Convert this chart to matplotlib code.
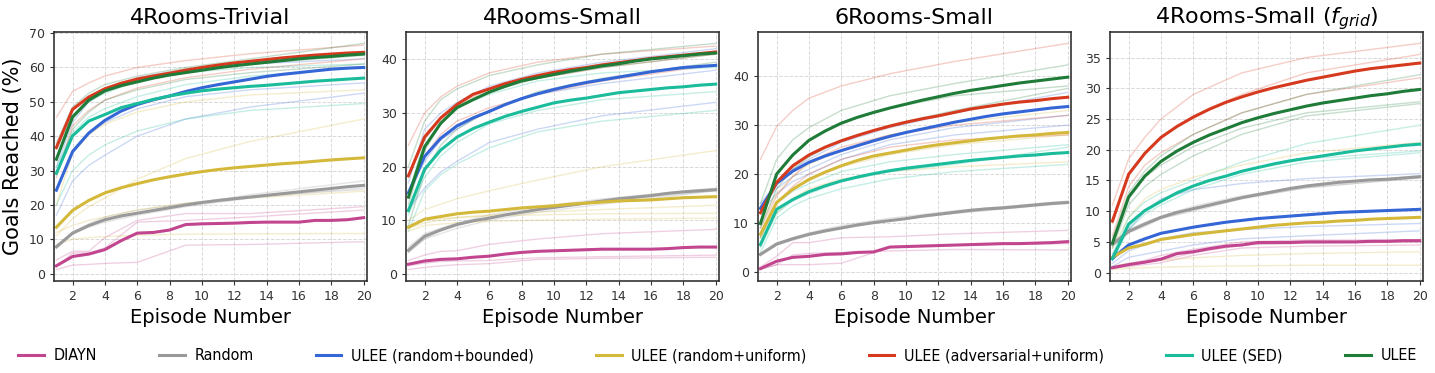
import numpy as np
import matplotlib
matplotlib.use("Agg")
import matplotlib.pyplot as plt

# episodes for the mean curves and for the (coarser) per-seed curves
episodes = np.arange(1, 21)
seed_episodes = [1, 2, 3, 4, 6, 9, 13, 20]

methods = ["DIAYN", "Random", "ULEE (random+bounded)", "ULEE (random+uniform)",
           "ULEE (adversarial+uniform)", "ULEE (SED)", "ULEE"]
colors = ["#c2468f", "#9a9a9a", "#3566d6", "#d4b83a", "#d63a1e", "#1bbc9b", "#1e7b38"]

titles = ["4Rooms-Trivial", "4Rooms-Small", "6Rooms-Small", r"4Rooms-Small ($f_{grid}$)"]

# ---- mean curves, one list per method, order as in `methods`
trivial_mean = [
    [2.3, 5.0, 5.7, 7.0, 9.6, 11.8, 12.0, 12.7, 14.3, 14.5, 14.6, 14.7, 14.9, 15.0, 15.0, 15.0, 15.5, 15.5, 15.7, 16.3],
    [7.8, 11.8, 14.0, 15.7, 16.8, 17.6, 18.4, 19.2, 20.0, 20.7, 21.3, 21.8, 22.3, 22.8, 23.3, 23.8, 24.3, 24.8, 25.3, 25.7],
    [24.3, 35.5, 40.9, 44.6, 47.3, 49.2, 50.6, 51.7, 53.0, 54.1, 55.0, 55.8, 56.6, 57.4, 58.0, 58.5, 59.0, 59.5, 59.8, 60.0],
    [13.5, 18.4, 21.3, 23.5, 25.0, 26.2, 27.3, 28.2, 29.0, 29.7, 30.3, 30.8, 31.2, 31.6, 32.0, 32.3, 32.7, 33.1, 33.4, 33.7],
    [36.7, 47.8, 51.4, 53.8, 55.4, 56.6, 57.5, 58.3, 59.2, 60.0, 60.7, 61.3, 61.8, 62.3, 62.8, 63.2, 63.6, 63.9, 64.2, 64.4],
    [29.2, 40.1, 44.4, 46.3, 48.3, 49.5, 50.7, 51.7, 52.5, 53.2, 53.7, 54.1, 54.5, 54.8, 55.2, 55.6, 56.0, 56.3, 56.6, 56.9],
    [33.3, 45.6, 50.5, 53.2, 54.7, 55.8, 56.9, 57.8, 58.5, 59.2, 59.9, 60.5, 61.0, 61.5, 62.0, 62.5, 62.9, 63.2, 63.6, 63.9],
]
small_mean = [
    [1.8, 2.4, 2.7, 2.8, 3.1, 3.3, 3.7, 4.0, 4.2, 4.3, 4.4, 4.5, 4.6, 4.6, 4.6, 4.6, 4.7, 4.9, 5.0, 5.0],
    [4.4, 7.0, 8.2, 9.2, 9.9, 10.4, 11.0, 11.5, 12.0, 12.4, 12.8, 13.2, 13.6, 14.0, 14.3, 14.6, 15.0, 15.3, 15.5, 15.7],
    [15.1, 21.9, 25.3, 27.6, 29.1, 30.3, 31.6, 32.7, 33.6, 34.4, 35.1, 35.7, 36.2, 36.7, 37.2, 37.7, 38.1, 38.5, 38.7, 38.9],
    [8.7, 10.2, 10.7, 11.2, 11.5, 11.7, 12.0, 12.3, 12.5, 12.7, 13.0, 13.2, 13.4, 13.6, 13.7, 13.8, 14.0, 14.2, 14.3, 14.4],
    [18.3, 25.5, 29.1, 31.6, 33.5, 34.5, 35.5, 36.3, 37.0, 37.6, 38.1, 38.5, 39.0, 39.4, 39.8, 40.2, 40.5, 40.8, 41.1, 41.4],
    [11.8, 19.5, 23.1, 25.5, 27.1, 28.3, 29.4, 30.3, 31.1, 31.9, 32.4, 32.8, 33.3, 33.8, 34.1, 34.4, 34.7, 34.9, 35.2, 35.4],
    [14.3, 23.7, 28.1, 31.0, 32.5, 33.9, 35.0, 36.0, 36.6, 37.2, 37.8, 38.3, 38.8, 39.2, 39.7, 40.1, 40.4, 40.7, 41.0, 41.2],
]
six_mean = [
    [0.7, 2.2, 3.0, 3.2, 3.6, 3.7, 4.0, 4.1, 5.1, 5.2, 5.3, 5.4, 5.5, 5.6, 5.7, 5.8, 5.8, 5.9, 6.0, 6.2],
    [3.6, 5.7, 6.8, 7.7, 8.4, 9.0, 9.6, 10.1, 10.5, 10.9, 11.4, 11.8, 12.2, 12.6, 12.9, 13.1, 13.4, 13.7, 14.0, 14.2],
    [13.0, 18.1, 20.6, 22.4, 23.7, 24.8, 25.8, 26.8, 27.7, 28.5, 29.2, 29.9, 30.6, 31.2, 31.8, 32.3, 32.7, 33.1, 33.5, 33.8],
    [7.7, 14.2, 16.9, 18.9, 20.4, 21.7, 22.8, 23.7, 24.3, 24.9, 25.5, 26.0, 26.4, 26.8, 27.2, 27.5, 27.8, 28.0, 28.3, 28.5],
    [12.1, 18.3, 21.7, 23.9, 25.5, 26.8, 27.9, 28.9, 29.8, 30.6, 31.3, 31.9, 32.6, 33.3, 33.8, 34.3, 34.7, 35.0, 35.4, 35.7],
    [5.6, 12.8, 14.8, 16.4, 17.6, 18.6, 19.4, 20.1, 20.7, 21.2, 21.6, 22.0, 22.4, 22.8, 23.1, 23.4, 23.7, 23.9, 24.2, 24.4],
    [9.9, 20.0, 23.9, 26.9, 28.8, 30.4, 31.6, 32.6, 33.5, 34.3, 35.1, 35.8, 36.5, 37.1, 37.6, 38.1, 38.6, 39.0, 39.4, 39.8],
]
grid_mean = [
    [0.8, 1.3, 1.7, 2.2, 3.1, 3.4, 3.9, 4.3, 4.5, 4.9, 4.9, 4.9, 5.0, 5.0, 5.0, 5.0, 5.1, 5.1, 5.2, 5.2],
    [4.6, 6.7, 7.9, 9.0, 9.8, 10.4, 11.0, 11.6, 12.2, 12.7, 13.2, 13.7, 14.1, 14.4, 14.7, 14.9, 15.1, 15.2, 15.4, 15.6],
    [2.3, 4.5, 5.5, 6.4, 6.9, 7.4, 7.8, 8.2, 8.5, 8.8, 9.0, 9.2, 9.4, 9.6, 9.8, 9.9, 10.0, 10.1, 10.2, 10.3],
    [2.5, 4.0, 4.6, 5.4, 5.8, 6.2, 6.5, 6.8, 7.1, 7.4, 7.7, 7.9, 8.1, 8.2, 8.4, 8.5, 8.7, 8.8, 8.9, 9.0],
    [8.4, 16.0, 19.4, 22.0, 23.8, 25.3, 26.6, 27.7, 28.6, 29.4, 30.1, 30.7, 31.3, 31.8, 32.3, 32.8, 33.2, 33.5, 33.8, 34.1],
    [2.3, 7.9, 10.1, 11.6, 13.0, 14.1, 15.0, 15.7, 16.5, 17.1, 17.7, 18.2, 18.6, 19.0, 19.4, 19.8, 20.1, 20.4, 20.7, 20.9],
    [4.8, 12.3, 15.7, 18.1, 19.8, 21.2, 22.4, 23.4, 24.4, 25.2, 25.9, 26.5, 27.1, 27.6, 28.0, 28.4, 28.8, 29.1, 29.5, 29.8],
]

# ---- individual seeds (faint), values at seed_episodes
trivial_seeds = [
    [[4.0, 6.5, 6.5, 10.5, 15.5, 17.5, 17.5, 19.5], [2.0, 6.0, 6.0, 7.5, 15.0, 15.5, 16.5, 18.5],
     [1.2, 2.5, 2.7, 3.0, 3.3, 8.3, 8.5, 9.3]],
    [[7.5, 11.5, 13.5, 15.0, 17.0, 19.5, 22.0, 25.0], [8.0, 12.0, 14.5, 16.5, 18.5, 20.5, 22.5, 24.5],
     [8.0, 12.0, 14.0, 15.5, 17.5, 20.0, 23.0, 27.0]],
    [[31.0, 44.0, 50.0, 53.5, 57.0, 59.5, 61.0, 62.5], [24.0, 36.0, 41.0, 44.0, 48.0, 51.5, 53.5, 55.5],
     [17.0, 27.0, 31.5, 34.5, 40.0, 45.0, 48.5, 52.5]],
    [[20.0, 35.0, 40.5, 43.5, 47.0, 50.0, 52.0, 53.5], [11.0, 16.0, 19.5, 22.0, 27.5, 33.5, 38.5, 45.0],
     [12.0, 14.0, 15.5, 16.5, 18.5, 20.5, 22.0, 24.0], [8.5, 10.0, 10.5, 10.8, 11.2, 11.5, 11.6, 11.7]],
    [[45.5, 53.0, 55.5, 57.5, 60.0, 62.0, 64.0, 66.5], [37.0, 47.5, 51.5, 54.0, 57.0, 59.5, 61.5, 64.5],
     [28.0, 43.0, 47.5, 50.5, 54.0, 57.0, 59.5, 62.5]],
    [[36.0, 46.0, 50.0, 52.5, 56.0, 58.5, 60.0, 61.0], [31.0, 41.0, 45.5, 48.0, 51.5, 55.0, 57.5, 60.0],
     [20.0, 30.0, 34.5, 37.5, 41.5, 45.0, 47.5, 49.5]],
    [[38.0, 48.5, 52.5, 55.0, 57.5, 60.0, 62.5, 67.0], [33.0, 45.0, 50.0, 53.0, 56.0, 59.0, 61.0, 63.5],
     [29.0, 42.0, 47.0, 50.5, 53.5, 56.5, 58.5, 61.0]],
]
small_seeds = [
    [[2.5, 3.5, 4.2, 4.3, 5.5, 6.5, 7.5, 8.3], [1.5, 2.0, 2.3, 2.4, 2.5, 3.0, 3.2, 3.5],
     [0.8, 1.2, 1.5, 1.7, 1.9, 2.7, 2.9, 3.1]],
    [[4.0, 6.5, 8.0, 9.0, 10.5, 12.0, 13.5, 15.5], [5.0, 7.5, 8.5, 9.5, 11.0, 12.5, 14.0, 16.0],
     [4.0, 6.5, 7.5, 8.5, 10.0, 11.5, 13.0, 15.5]],
    [[17.0, 27.0, 30.0, 32.0, 35.0, 37.5, 39.5, 42.0], [15.0, 21.0, 25.0, 27.0, 30.5, 33.5, 35.5, 38.0],
     [12.0, 16.0, 19.0, 21.0, 24.5, 27.0, 29.5, 32.0]],
    [[10.0, 12.0, 13.0, 14.0, 15.5, 17.5, 20.0, 23.0], [8.5, 10.0, 10.3, 10.5, 11.0, 11.5, 12.0, 12.8],
     [8.0, 9.0, 9.3, 9.5, 9.8, 10.0, 10.2, 10.4], [8.5, 9.5, 10.0, 10.5, 10.8, 11.0, 11.2, 11.3]],
    [[24.0, 30.0, 33.0, 35.0, 37.5, 39.5, 41.0, 42.5], [18.0, 26.0, 29.0, 31.5, 34.5, 36.5, 38.5, 41.0],
     [15.0, 22.0, 26.0, 28.5, 31.0, 33.5, 36.0, 39.0]],
    [[15.0, 25.0, 29.0, 31.0, 33.5, 36.0, 37.5, 38.5], [11.0, 18.0, 22.0, 24.5, 28.0, 30.5, 32.5, 34.0],
     [8.0, 15.5, 18.5, 20.5, 23.5, 26.5, 28.5, 30.5]],
    [[20.0, 28.5, 32.5, 34.5, 37.0, 39.0, 41.0, 43.0], [13.0, 23.0, 28.0, 31.0, 34.0, 36.5, 38.5, 41.0],
     [9.0, 19.0, 24.0, 27.0, 30.5, 34.0, 36.5, 39.5]],
]
six_seeds = [
    [[1.0, 3.2, 6.0, 6.0, 7.0, 7.2, 7.8, 8.5], [0.5, 1.5, 3.5, 3.8, 4.0, 4.3, 4.6, 4.5],
     [0.6, 1.5, 1.5, 1.5, 1.8, 5.0, 5.5, 5.8]],
    [[3.5, 5.5, 6.5, 7.5, 9.0, 10.5, 12.0, 14.0], [3.8, 6.0, 7.0, 8.0, 9.5, 11.0, 12.5, 14.5],
     [3.3, 5.5, 6.8, 7.5, 8.8, 10.5, 12.0, 14.2]],
    [[14.0, 18.0, 21.0, 23.0, 26.5, 29.5, 32.5, 36.7], [13.0, 17.0, 19.5, 21.0, 24.0, 27.0, 29.5, 32.0],
     [12.0, 16.0, 18.5, 20.0, 23.0, 26.0, 28.0, 30.0]],
    [[10.0, 16.0, 19.5, 22.0, 25.0, 28.0, 30.5, 33.0], [7.0, 14.0, 17.0, 19.0, 21.5, 24.0, 26.0, 28.0],
     [6.0, 12.0, 15.0, 17.0, 19.0, 20.5, 21.5, 22.5]],
    [[23.0, 29.7, 33.0, 35.5, 38.0, 40.5, 43.0, 46.7], [9.0, 15.5, 19.5, 22.5, 25.5, 28.0, 30.0, 32.0],
     [7.0, 14.0, 17.5, 20.0, 23.0, 25.5, 27.0, 28.0]],
    [[7.0, 14.0, 16.5, 18.0, 20.5, 22.5, 24.0, 26.0], [5.0, 12.0, 14.5, 16.0, 18.5, 20.5, 22.0, 25.5],
     [4.0, 11.0, 13.5, 15.0, 17.0, 19.0, 20.5, 22.0]],
    [[14.0, 23.0, 27.0, 29.5, 33.0, 36.0, 38.5, 42.3], [10.0, 20.0, 24.0, 27.0, 30.5, 33.5, 36.0, 38.0],
     [9.0, 17.0, 21.0, 23.5, 27.0, 30.0, 33.0, 37.5]],
]
grid_seeds = [
    [[1.0, 1.5, 2.0, 2.8, 3.8, 5.0, 5.3, 5.3], [0.8, 1.2, 1.6, 2.0, 3.2, 4.5, 4.8, 5.0],
     [0.7, 1.0, 1.3, 1.6, 2.8, 4.0, 4.3, 4.5]],
    [[4.5, 6.5, 7.5, 8.8, 10.0, 12.0, 13.8, 15.5], [4.8, 7.0, 8.2, 9.2, 10.8, 12.5, 14.0, 15.8],
     [4.3, 6.5, 7.8, 8.8, 10.2, 12.2, 13.8, 15.4]],
    [[3.0, 7.0, 10.0, 12.0, 13.5, 14.5, 15.3, 16.1], [1.5, 3.5, 4.5, 5.5, 6.5, 7.0, 7.5, 8.0],
     [1.0, 2.5, 3.0, 3.5, 4.5, 5.5, 6.0, 6.8]],
    [[4.0, 9.0, 12.0, 13.5, 15.5, 17.5, 19.5, 21.2], [1.0, 1.5, 1.8, 2.0, 2.4, 2.8, 3.1, 3.4],
     [0.5, 0.7, 0.8, 0.9, 1.0, 1.1, 1.2, 1.2]],
    [[11.0, 18.5, 22.0, 25.0, 29.0, 32.5, 35.0, 37.3], [8.0, 16.0, 19.5, 22.0, 25.5, 29.0, 32.5, 35.5],
     [6.0, 14.0, 17.5, 19.5, 22.5, 26.0, 29.0, 31.7]],
    [[3.0, 9.0, 11.5, 13.0, 15.0, 18.0, 21.0, 24.0], [2.0, 7.5, 10.0, 11.5, 14.0, 16.5, 18.5, 19.8],
     [2.0, 7.0, 9.5, 11.0, 13.5, 16.0, 18.0, 19.5]],
    [[5.5, 13.0, 16.5, 19.0, 22.5, 26.0, 29.0, 32.2], [4.5, 12.0, 15.5, 17.5, 20.5, 23.5, 26.0, 27.8],
     [4.0, 11.0, 14.0, 16.0, 19.0, 22.5, 25.5, 27.5]],
]

all_means = [trivial_mean, small_mean, six_mean, grid_mean]
all_seeds = [trivial_seeds, small_seeds, six_seeds, grid_seeds]

fig, axes = plt.subplots(1, 4, figsize=(14.35, 3.73), dpi=100)
fig.subplots_adjust(left=0.0376, right=0.9916, top=0.914, bottom=0.247, wspace=0.125)

for ax, title, means, seeds in zip(axes, titles, all_means, all_seeds):
    # faint seeds first, bold means on top
    for color, runs in zip(colors, seeds):
        for run in runs:
            ax.plot(seed_episodes, run, color=color, lw=1.0, alpha=0.25)
    for name, color, m in zip(methods, colors, means):
        ax.plot(episodes, m, color=color, lw=2.2, label=name)

    ax.set_title(title, fontsize=16)
    ax.set_xlabel("Episode Number", fontsize=14)
    ax.set_xlim(0.85, 20.2)
    ax.set_xticks(range(2, 21, 2))
    ax.grid(True, linestyle="--", color="#d0d0d0", lw=0.7, alpha=0.8)
    ax.tick_params(labelsize=9, colors="#333333", length=3)
    for sp in ax.spines.values():
        sp.set_color("#333333")
        sp.set_linewidth(1.2)

axes[0].set_ylabel("Goals Reached (%)", fontsize=15)

handles, labels = axes[0].get_legend_handles_labels()
fig.legend(handles, labels, loc="lower center", ncol=7, frameon=False,
           prop={"family": "DejaVu Sans", "stretch": "condensed", "size": 11.5},
           bbox_to_anchor=(0.5, -0.012), handlelength=1.6, handletextpad=0.6,
           columnspacing=3.9)

fig.savefig("out.png", dpi=100)
